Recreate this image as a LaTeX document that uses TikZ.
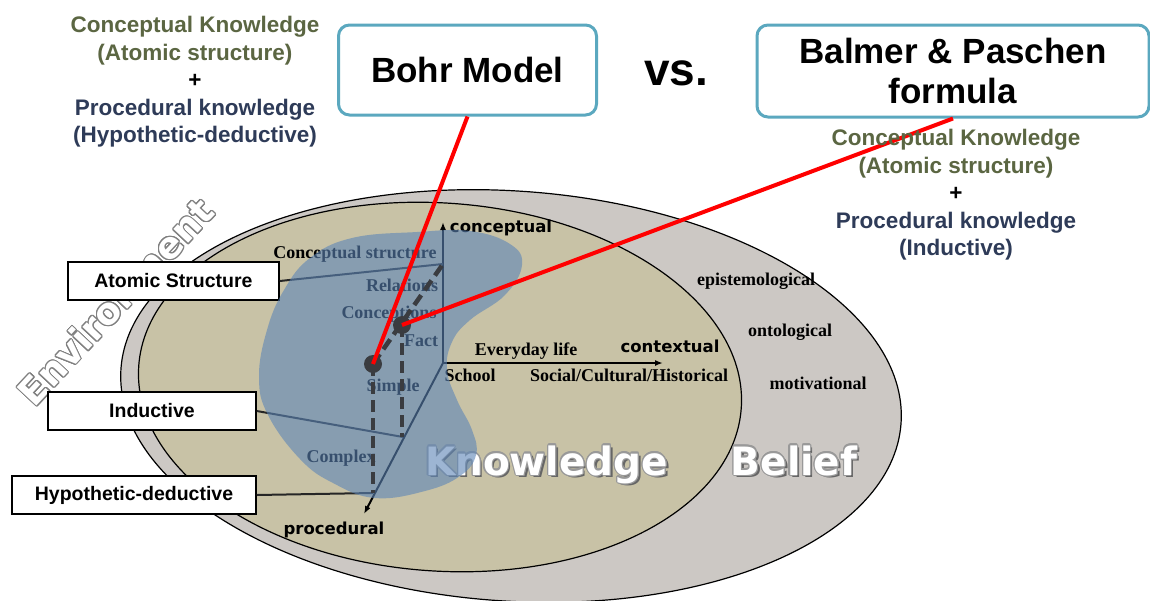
\documentclass[tikz,border=0pt]{standalone}
\usepackage{fontspec}
\setmainfont{Liberation Serif}
\setsansfont{Liberation Sans}
\newfontfamily\heavyfont{DejaVu Sans}
\usepackage{contour}
\usetikzlibrary{arrows.meta}

\definecolor{beliefgray}{RGB}{204,200,196}
\definecolor{knowtan}{RGB}{200,194,166}
\definecolor{blobblue}{RGB}{92,133,183}
\definecolor{boxteal}{RGB}{91,168,191}
\definecolor{olivetext}{RGB}{91,102,66}
\definecolor{navytext}{RGB}{46,59,88}
\definecolor{dashgray}{RGB}{58,60,64}
\newcommand{\setfs}[2]{\fontsize{#1}{#2}\selectfont}
\contourlength{1.1pt}

\begin{document}
\begin{tikzpicture}[x=1pt, y=-1pt,
      every node/.append style={inner sep=0pt},
      titlebox/.style={draw=boxteal, line width=3pt, rounded corners=11pt, fill=white,
        align=center, font=\sffamily\bfseries\setfs{35}{40}},
      sidebox/.style={draw=black, line width=1.5pt, fill=white, minimum height=38pt,
        font=\sffamily\bfseries\setfs{19.5}{22}},
      note/.style={align=center, font=\sffamily\bfseries\setfs{22.5}{27.5}},
      axislabel/.style={font=\heavyfont\bfseries\setfs{16.5}{20}},
      scale label/.style={font=\bfseries\setfs{18}{20}},
      bigword/.style={anchor=base, font=\heavyfont\bfseries\setfs{39}{40}},
      axis/.style={line width=2pt, -{Latex[length=8pt, width=6pt]}},
      boxline/.style={line width=2pt, draw=black!85},
      dashline/.style={line width=4.5pt, draw=dashgray, dash pattern=on 12pt off 6pt},
      redline/.style={line width=4pt, draw=red},
      dot/.style={circle, fill=dashgray, minimum size=18pt}]
    \fill[white] (0,0) rectangle (1150,600);
    \useasboundingbox (0,0) rectangle (1150,600);

    % belief and knowledge areas
    \draw[fill=beliefgray, line width=1.2pt, rotate around={-4:(511,396)}]
      (511,396) ellipse [x radius=391, y radius=205];
    \draw[fill=knowtan, line width=1.2pt, rotate around={-4:(440,387)}]
      (440,387) ellipse [x radius=302, y radius=184];
    \node (env) [rotate=47, font=\heavyfont\bfseries\setfs{37}{40}] at (116,302)
      {\contour{gray}{\textcolor{white}{Environment}}};

    % axes
    \coordinate (origin) at (443,363);
    \coordinate (conctip) at (443,222);
    \coordinate (conttip) at (663,363);
    \coordinate (proctip) at (364,514);
    \coordinate (structpt) at (443,264);
    \coordinate (indpt) at (403,437);
    \coordinate (hdpt) at (373,493);
    \draw[axis] (origin) -- (conctip);
    \draw[axis] (origin) -- (conttip);
    \draw[axis] (origin) -- (proctip);
    \node (conc) [axislabel] at (501,228) {conceptual};
    \node (cont) [axislabel] at (670,346) {contextual};
    \node (proc) [axislabel] at (334,530) {procedural};

    \node (cstruct) [scale label] at (355,254) {Conceptual structure};
    \node (rel) [scale label] at (402,285) {Relations};
    \node (concs) [scale label] at (389,314) {Conceptions};
    \node (fact) [scale label] at (421,341) {Fact};
    \node (simple) [scale label] at (393,387) {Simple};
    \node (complex) [scale label] at (341,458) {Complex};
    \node (every) [scale label] at (526,351) {Everyday life};
    \node (school) [scale label] at (470,375) {School};
    \node (social) [scale label] at (629,375) {Social/Cultural/Historical};
    \node (episte) [scale label] at (756,281) {epistemological};
    \node (onto) [scale label] at (790,332) {ontological};
    \node (motiv) [scale label] at (818,383) {motivational};

    \node (knowshade) [bigword, text=black!60] at (549,477.5) {Knowledge};
    \node (knowledge) [bigword] at (546.5,475) {\contour{gray!80}{\textcolor{white}{Knowledge}}};
    \node (beliefshade) [bigword, text=black!60] at (796.5,477.5) {Belief};
    \node (belief) [bigword] at (794,475) {\contour{gray!80}{\textcolor{white}{Belief}}};

    % side boxes
    \node (atomic) [sidebox, minimum width=211pt] at (173.5,281) {Atomic Structure};
    \node (inductive) [sidebox, minimum width=208pt] at (152,411) {Inductive};
    \node (hypo) [sidebox, minimum width=244pt] at (134,495) {Hypothetic-deductive};
    \draw[boxline] (atomic.east) -- (structpt);
    \draw[boxline] (inductive.east) -- (indpt);
    \draw[boxline] (hypo.east) -- (hdpt);

    % conception blob
    \fill[blobblue, opacity=0.6] plot[smooth cycle, tension=0.7] coordinates {
      (417,232) (470,231) (510,244) (522,265) (505,295) (470,320) (452,342)
      (447,370) (457,400) (472,430) (476,455) (460,476) (425,491) (375,498)
      (333,483) (300,459) (268,415) (259,377) (267,330) (284,290) (310,258) (352,238)};

    \node (simpledot) [dot] at (373,364) {};
    \node (factdot) [dot] at (402,325) {};
    \draw[dashline] (simpledot.center) -- (structpt);
    \draw[dashline] (simpledot.center) -- (hdpt);
    \draw[dashline] (factdot.center) -- (factdot.center |- indpt);

    % models
    \node (bohr) [titlebox, minimum width=258pt, minimum height=90pt] at (467.5,70) {Bohr Model};
    \node (balmer) [titlebox, minimum width=392pt, minimum height=92pt] at (953,71)
      {Balmer \& Paschen\\formula};
    \node (vs) [font=\sffamily\bfseries\setfs{46}{48}] at (676,73) {vs.};
    \draw[redline] (bohr.south) -- (simpledot.center);
    \draw[redline] (balmer.south) -- (factdot.center);

    \node (leftnote) [note] at (195,82) {\textcolor{olivetext}{Conceptual Knowledge}\\
      \textcolor{olivetext}{(Atomic structure)}\\+\\
      \textcolor{navytext}{Procedural knowledge}\\\textcolor{navytext}{(Hypothetic-deductive)}};
    \node (rightnote) [note] at (956,195) {\textcolor{olivetext}{Conceptual Knowledge}\\
      \textcolor{olivetext}{(Atomic structure)}\\+\\
      \textcolor{navytext}{Procedural knowledge}\\\textcolor{navytext}{(Inductive)}};
  \end{tikzpicture}
\end{document}
